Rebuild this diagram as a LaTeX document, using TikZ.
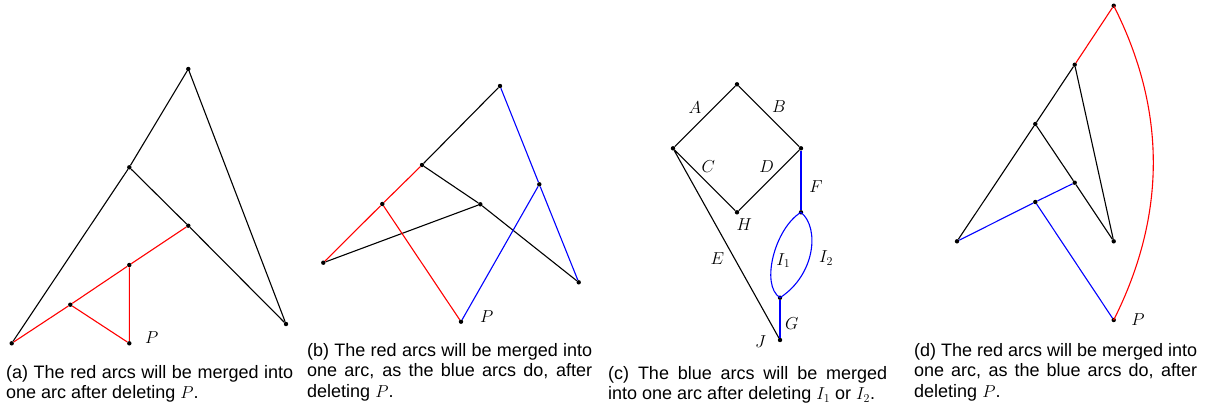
\documentclass[tikz,border=0pt]{standalone}
\usepackage{fontspec}
\setmainfont{Liberation Sans}
\begin{document}
\begin{tikzpicture}[x=1pt,y=-1pt,
  dot/.style={circle,fill=black,inner sep=0pt,minimum size=4.4pt},
  edge/.style={line width=1.1pt},
  rarc/.style={edge,red},
  barc/.style={edge,blue},
  lab/.style={font=\fontsize{16.5}{18}\selectfont,inner sep=0pt},
  captext/.style={anchor=north west,inner sep=0pt,align=justify,font=\fontsize{18}{20.5}\selectfont}]
\useasboundingbox (0,0) rectangle (1222,408);

% ---------- (a)
\node[dot] (at)  at (188.3,69) {};
\node[dot] (am)  at (129.3,167.3) {};
\node[dot] (ar)  at (188.3,225.7) {};
\node[dot] (ai)  at (129.3,265) {};
\node[dot] (al)  at (70.3,304.7) {};
\node[dot] (ab)  at (11.7,343.3) {};
\node[dot] (aP)  at (129.3,343.3) {};
\node[dot] (arr) at (286,324) {};
\draw[edge] (at) -- (am) -- (ab);
\draw[edge] (at) -- (arr);
\draw[edge] (am) -- (ar) -- (arr);
\draw[rarc] (ab) -- (al) -- (ai) -- (ar);
\draw[rarc] (al) -- (aP) -- (ai);
\node[lab] (aPl) at (151.7,338) {$P$};
\node[captext,text width=287pt] (capa) at (6,365.2)
  {(a) The red arcs will be merged into\linebreak one arc after deleting $P$.};

% ---------- (b)
\node[dot] (bt) at (500,86) {};
\node[dot] (ba) at (422,165) {};
\node[dot] (bb) at (382.3,204) {};
\node[dot] (bc) at (480.3,204.3) {};
\node[dot] (bl) at (323.3,262.7) {};
\node[dot] (bP) at (461,321.7) {};
\node[dot] (bm) at (539.3,184.3) {};
\node[dot] (br) at (578.7,282.3) {};
\draw[edge] (bt) -- (ba) -- (bc) -- (br);
\draw[edge] (bc) -- (bl);
\draw[rarc] (ba) -- (bb) -- (bl);
\draw[rarc] (bb) -- (bP);
\draw[barc] (bt) -- (bm) -- (br);
\draw[barc] (bm) -- (bP);
\node[lab] (bPl) at (486.7,316.7) {$P$};
\node[captext,text width=285pt] (capb) at (307,342.9)
  {(b) The red arcs will be merged into\linebreak one arc, as the blue arcs do, after\linebreak deleting $P$.};

% ---------- (c)
\node[dot] (ct) at (737,84.3) {};
\node[dot] (cl) at (673,148.3) {};
\node[dot] (cr) at (801,148.3) {};
\node[dot] (cH) at (737,212.3) {};
\node[dot] (ck) at (801,212.3) {};
\node[dot] (cL) at (780,297.7) {};
\node[dot] (cJ) at (780,340) {};
\draw[edge] (cl) -- (ct) -- (cr) -- (cH) -- (cl) -- (cJ);
\draw[barc] (cr) -- (ck);
\draw[barc] (cL) -- (cJ);
\draw[barc] (ck.center) .. controls (775,228) and (760,285) .. (cL.center);
\draw[barc] (ck.center) .. controls (820,228) and (815,275) .. (cL.center);
\node[lab] (lA) at (695,107.7) {$A$};
\node[lab] (lB) at (779,106.7) {$B$};
\node[lab] (lC) at (708.3,166.7) {$C$};
\node[lab] (lD) at (766.7,166.7) {$D$};
\node[lab] (lF) at (816,186.7) {$F$};
\node[lab] (lH) at (744.3,224.3) {$H$};
\node[lab] (lE) at (717.3,258.3) {$E$};
\node[lab] (lI1) at (783.3,260.7) {$I_1$};
\node[lab] (lI2) at (826,258.3) {$I_2$};
\node[lab] (lG) at (791.7,323.3) {$G$};
\node[lab] (lJ) at (760.7,341.7) {$J$};
\node[captext,text width=279pt] (capc) at (608,365.9)
  {(c) The blue arcs will be merged\linebreak into one arc after deleting $I_1$ or $I_2$.};

% ---------- (d)
\node[dot] (dt) at (1113.7,5.7) {};
\node[dot] (da) at (1074.7,64.7) {};
\node[dot] (db) at (1035.3,124) {};
\node[dot] (dc) at (1074.7,182.7) {};
\node[dot] (dd) at (1035.3,202) {};
\node[dot] (dl) at (957,241.3) {};
\node[dot] (dr) at (1113.7,241.3) {};
\node[dot] (dP) at (1113.7,320) {};
\draw[edge] (da) -- (db) -- (dl);
\draw[edge] (da) -- (dr);
\draw[edge] (db) -- (dc) -- (dr);
\draw[rarc] (dt) -- (da);
\draw[rarc] (dt.center) .. controls (1166.5,110) and (1166.5,215) .. (dP.center);
\draw[barc] (dl) -- (dd) -- (dc);
\draw[barc] (dd) -- (dP);
\node[lab] (dPl) at (1138,319.3) {$P$};
\node[captext,text width=283pt] (capd) at (914,342.9)
  {(d) The red arcs will be merged into\linebreak one arc, as the blue arcs do, after\linebreak deleting $P$.};
\end{tikzpicture}
\end{document}
